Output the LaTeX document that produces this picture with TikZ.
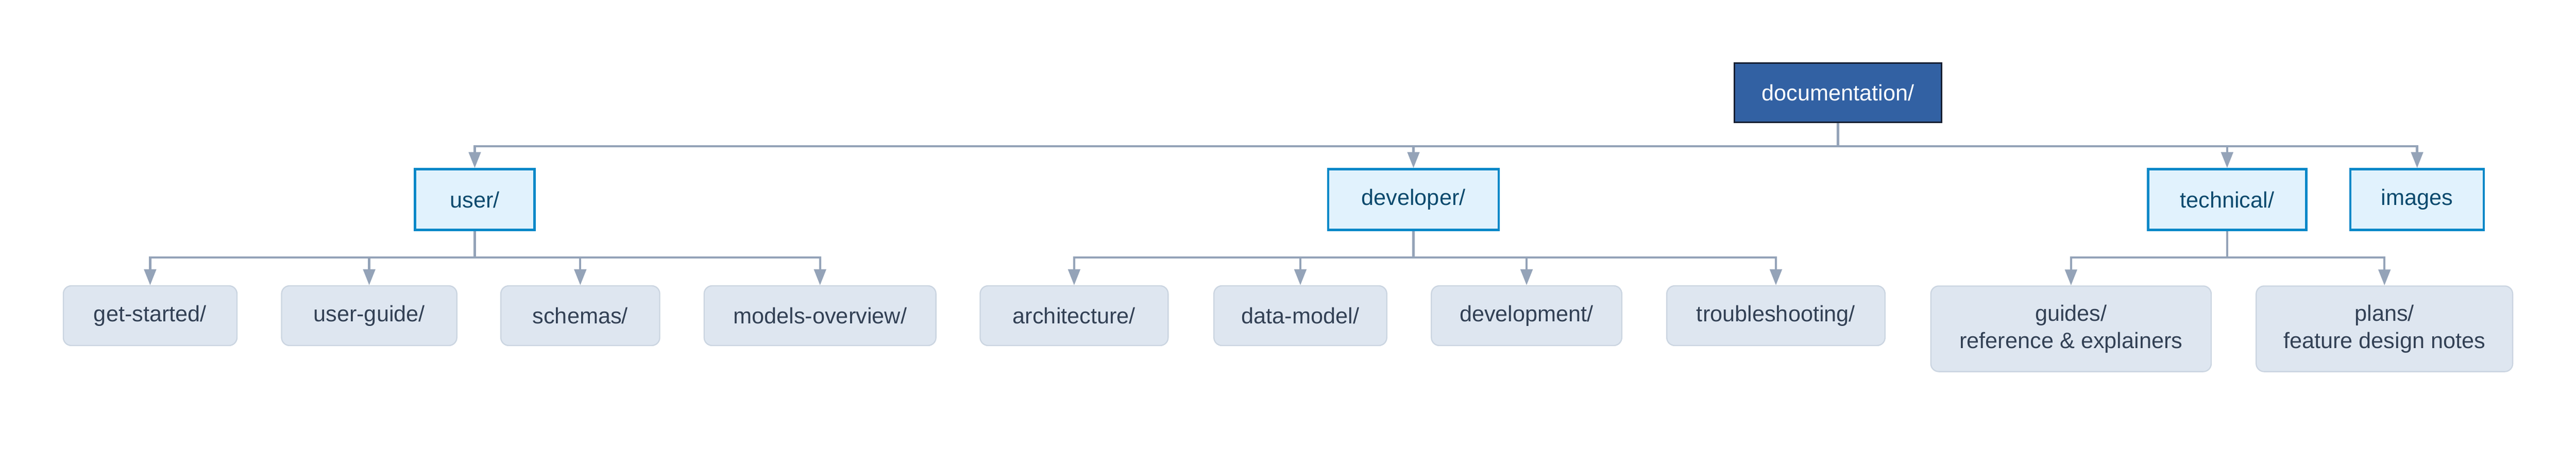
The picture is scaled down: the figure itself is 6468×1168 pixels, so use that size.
\documentclass[tikz,border=0pt]{standalone}
\usepackage{fontspec}
\setmainfont{Liberation Sans}
\usetikzlibrary{arrows.meta}
\definecolor{linec}{HTML}{94A3B8}
\definecolor{docfill}{HTML}{3261A3}
\definecolor{docdraw}{HTML}{172033}
\definecolor{midfill}{HTML}{E1F2FD}
\definecolor{middraw}{HTML}{0A88C8}
\definecolor{midtext}{HTML}{0C4A6E}
\definecolor{leaffill}{HTML}{DEE6F0}
\definecolor{leafdraw}{HTML}{CBD5E1}
\definecolor{leaftext}{HTML}{334155}
\tikzset{
  rootbox/.style={draw=docdraw, fill=docfill, text=white, line width=0.7pt, minimum width=104pt, minimum height=29.8pt, inner sep=0pt},
  midbox/.style={draw=middraw, fill=midfill, text=midtext, line width=1.2pt, minimum height=30.6pt, inner sep=0pt},
  leafbox/.style={draw=leafdraw, fill=leaffill, text=leaftext, line width=0.6pt, rounded corners=4pt, minimum height=30pt, inner sep=0pt, align=center},
  conn/.style={draw=linec, line width=1.1pt, -{Triangle[length=8pt, width=6pt]}},
  plainconn/.style={draw=linec, line width=1.1pt}
}
\begin{document}
\begin{tikzpicture}[x=0.2pt, y=-0.2pt, font=\fontsize{11.2pt}{13.7pt}\selectfont]
\useasboundingbox (0,0) rectangle (6468,1168);
% root
\node[rootbox] (doc) at (4615,233) {documentation/};
% level 2
\node[midbox, minimum width=60pt] (user) at (1192,501.5) {user/};
\node[midbox, minimum width=85.6pt] (developer) at (3549,501.5) {developer/};
\node[midbox, minimum width=79.4pt] (technical) at (5592,501.5) {technical/};
\node[midbox, minimum width=67pt] (images) at (6069,501.5) {images};
% leaves
\node[leafbox, minimum width=87.2pt] (getstarted) at (377,793) {get-started/};
\node[leafbox, minimum width=88pt] (userguide) at (927,793) {user-guide/};
\node[leafbox, minimum width=79.8pt] (schemas) at (1457,793) {schemas/};
\node[leafbox, minimum width=116.4pt] (models) at (2059,793) {models-overview/};
\node[leafbox, minimum width=94.4pt] (architecture) at (2697,793) {architecture/};
\node[leafbox, minimum width=86.8pt] (datamodel) at (3265,793) {data-model/};
\node[leafbox, minimum width=95.6pt] (development) at (3833,793) {development/};
\node[leafbox, minimum width=109.6pt] (troubleshooting) at (4459,793) {troubleshooting/};
\node[leafbox, minimum width=140.8pt, minimum height=43pt] (guides) at (5200,826) {guides/\\reference \& explainers};
\node[leafbox, minimum width=128.8pt, minimum height=43pt] (plans) at (5987,826) {plans/\\feature design notes};
% bus levels
\coordinate (busA) at (0,367);
\coordinate (busB) at (0,647);
% root edges
\foreach \c in {user,developer,technical,images}
  \draw[conn] (doc.south) -- (doc.south |- busA) -| (\c.north);
% user edges
\foreach \c in {getstarted,userguide,schemas,models}
  \draw[conn] (user.south) -- (user.south |- busB) -| (\c.north);
% developer edges
\foreach \c in {architecture,datamodel,development,troubleshooting}
  \draw[conn] (developer.south) -- (developer.south |- busB) -| (\c.north);
% technical edges
\foreach \c in {guides,plans}
  \draw[conn] (technical.south) -- (technical.south |- busB) -| (\c.north);
\end{tikzpicture}
\end{document}
